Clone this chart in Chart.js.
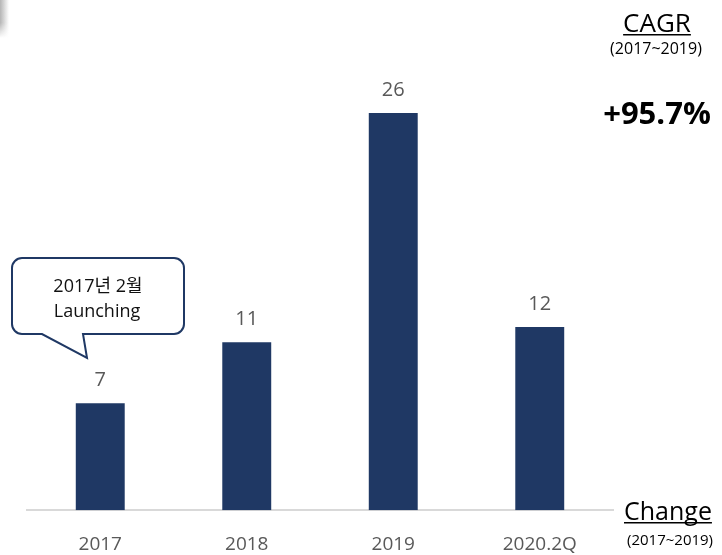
<!DOCTYPE html>
<html>
<head>
<meta charset="utf-8">
<script src="https://cdn.jsdelivr.net/npm/chart.js@4"></script>
<style>
    html, body { margin: 0; padding: 0; background: #fff; overflow: hidden; }
    #wrap { position: relative; width: 722px; height: 555px; overflow: hidden; }
    #edge {
        position: absolute; left: 0; top: 0; width: 9px; height: 38px;
        background: linear-gradient(to right, rgba(120,120,120,0.55), rgba(255,255,255,0));
        -webkit-mask-image: linear-gradient(to bottom, #000 60%, transparent);
        mask-image: linear-gradient(to bottom, #000 60%, transparent);
    }
</style>
</head>
<body>
<div id="wrap">
    <canvas id="salesChart" width="722" height="579"></canvas>
    <div id="edge"></div>
</div>
<script>
const years = ['2017', '2018', '2019', '2020.2Q'];
const values = [7, 11, 26, 12];
const yRange = [0, 30];

const NAVY = '#1f3864';
const FONT = '"Open Sans", "Noto Sans CJK KR", sans-serif';

// 막대 위 값 표시
const valueLabels = {
    id: 'valueLabels',
    afterDatasetsDraw(chart) {
        const ctx = chart.ctx;
        const meta = chart.getDatasetMeta(0);
        ctx.save();
        ctx.font = '20px ' + FONT;
        ctx.fillStyle = '#595959';
        ctx.textAlign = 'center';
        ctx.textBaseline = 'alphabetic';
        meta.data.forEach((bar, i) => {
            ctx.fillText(values[i], bar.x, bar.y - 17);
        });
        ctx.restore();
    }
};

function underlined(ctx, text, x, y, align) {
    ctx.textAlign = align;
    ctx.fillText(text, x, y);
    const w = ctx.measureText(text).width;
    const x0 = align === 'center' ? x - w / 2 : x;
    ctx.fillRect(x0, y + 2, w, 1.5);
}

// 말풍선 + CAGR 주석
const notes = {
    id: 'notes',
    afterDraw(chart) {
        const ctx = chart.ctx;
        ctx.save();

        // callout bubble
        const l = 12, t = 258, r = 184, b = 334, rad = 10;
        ctx.beginPath();
        ctx.moveTo(l + rad, t);
        ctx.lineTo(r - rad, t);
        ctx.arcTo(r, t, r, t + rad, rad);
        ctx.lineTo(r, b - rad);
        ctx.arcTo(r, b, r - rad, b, rad);
        ctx.lineTo(83, b);
        ctx.lineTo(87, 358);
        ctx.lineTo(42, b);
        ctx.lineTo(l + rad, b);
        ctx.arcTo(l, b, l, b - rad, rad);
        ctx.lineTo(l, t + rad);
        ctx.arcTo(l, t, l + rad, t, rad);
        ctx.closePath();
        ctx.fillStyle = '#fff';
        ctx.fill();
        ctx.strokeStyle = NAVY;
        ctx.lineWidth = 2;
        ctx.stroke();

        ctx.fillStyle = '#111';
        ctx.font = '18px ' + FONT;
        ctx.textAlign = 'center';
        ctx.textBaseline = 'alphabetic';
        ctx.fillText('2017년 2월', 98, 292);
        ctx.fillText('Launching', 97, 317);

        // CAGR block
        ctx.fillStyle = '#000';
        ctx.font = '26px ' + FONT;
        underlined(ctx, 'CAGR', 657, 32, 'center');
        ctx.font = '16px ' + FONT;
        ctx.textAlign = 'center';
        ctx.fillText('(2017~2019)', 656, 54);
        ctx.font = 'bold 31px ' + FONT;
        ctx.fillText('+95.7%', 657, 124);

        // Change block
        ctx.font = '25px ' + FONT;
        underlined(ctx, 'Change', 624, 520, 'left');
        ctx.font = '15px ' + FONT;
        ctx.textAlign = 'left';
        ctx.fillText('(2017~2019)', 627, 545);

        ctx.restore();
    }
};

new Chart(document.getElementById('salesChart').getContext('2d'), {
    type: 'bar',
    data: {
        labels: years,
        datasets: [{
            data: values,
            backgroundColor: NAVY,
            categoryPercentage: 1,
            barPercentage: 0.334
        }]
    },
    options: {
        responsive: false,
        animation: false,
        layout: { padding: { left: 27, right: 109, top: 52, bottom: 0 } },
        plugins: { legend: { display: false }, tooltip: { enabled: false } },
        scales: {
            x: {
                grid: { display: false, drawTicks: false },
                border: { display: true, color: '#d9d9d9', width: 2 },
                ticks: { color: '#595959', font: { family: FONT, size: 19 }, padding: 23 }
            },
            y: {
                display: false,
                min: yRange[0],
                max: yRange[1]
            }
        }
    },
    plugins: [valueLabels, notes]
});
</script>
</body>
</html>
